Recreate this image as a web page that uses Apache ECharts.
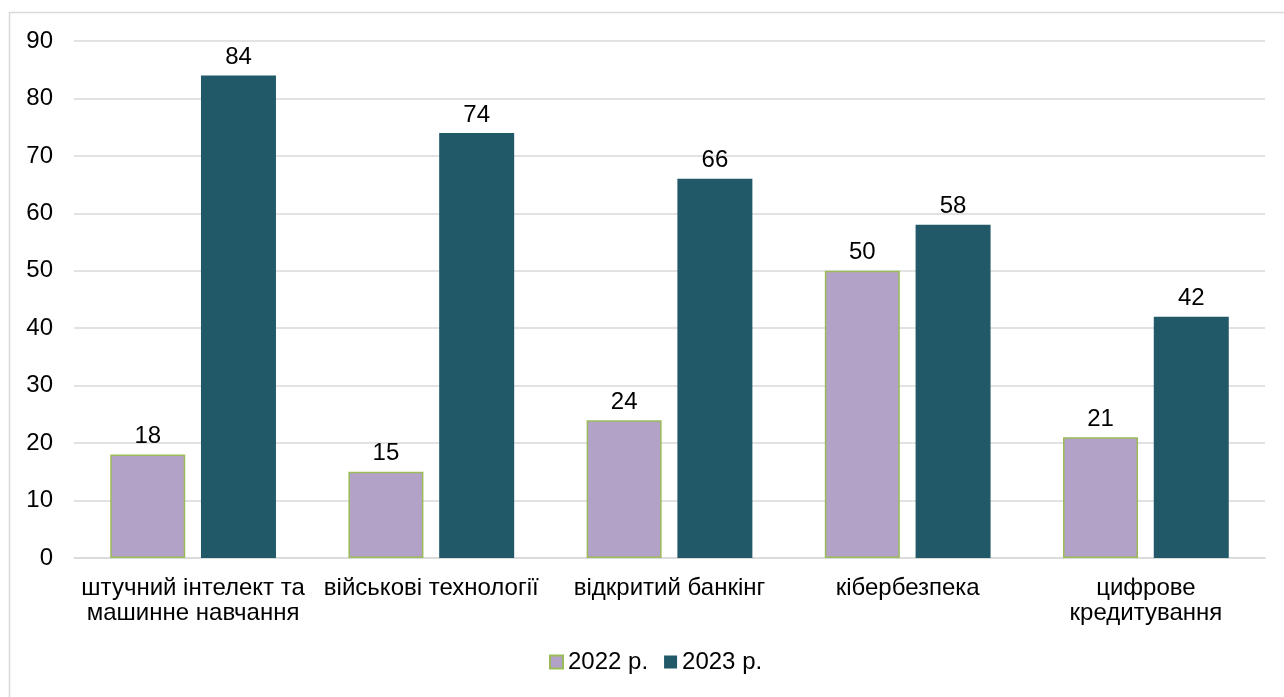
<!DOCTYPE html>
<html><head><meta charset="utf-8">
<script src="https://cdn.jsdelivr.net/npm/echarts@6/dist/echarts.min.js"></script>
<style>html,body{margin:0;padding:0;background:#fff}#c{width:1284px;height:697px}</style>
</head><body><div id="c"></div>
<script>
var categories = ['штучний інтелект та\nмашинне навчання', 'військові технології', 'відкритий банкінг', 'кібербезпека', 'цифрове\nкредитування'];
var values2022 = [18, 15, 24, 50, 21];
var values2023 = [84, 74, 66, 58, 42];
var seriesNames = ['2022 р.', '2023 р.'];

var chart = echarts.init(document.getElementById('c'));
var font = '"Liberation Sans", Arial, sans-serif';
var fs = 24;
chart.setOption({
  animation: false,
  backgroundColor: '#fff',
  graphic: [{type: 'rect', left: 7, top: 10, shape: {width: 1300, height: 720}, style: {fill: 'none', stroke: '#d9d9d9', lineWidth: 1.5}, silent: true, z: -1}],
  grid: {left: 74, right: 19, top: 41, bottom: 139, containLabel: false},
  legend: {
    top: 650, left: 549, padding: 0, itemWidth: 13, itemHeight: 13, itemGap: 16,
    textStyle: {fontFamily: font, fontSize: fs, color: '#000', padding: [0, 0, 0, 0]},
    data: seriesNames, icon: 'rect'
  },
  xAxis: {
    type: 'category', data: categories,
    axisLine: {lineStyle: {color: '#d9d9d9', width: 1.5}},
    axisTick: {show: false},
    axisLabel: {fontFamily: font, fontSize: fs, color: '#000', margin: 18, lineHeight: 25, interval: 0}
  },
  yAxis: {
    type: 'value', min: 0, max: 90, interval: 10,
    axisLine: {show: false}, axisTick: {show: false},
    splitLine: {lineStyle: {color: '#d9d9d9', width: 1.5}},
    axisLabel: {fontFamily: font, fontSize: fs, color: '#000', margin: 21}
  },
  series: [
    {name: seriesNames[0], type: 'bar', data: values2022, barWidth: 75, barGap: '21%',
     itemStyle: {color: '#b3a2c7', borderColor: '#9bbb59', borderWidth: 1.5},
     label: {show: true, position: 'top', distance: 6, fontFamily: font, fontSize: fs, color: '#000'}},
    {name: seriesNames[1], type: 'bar', data: values2023, barWidth: 75,
     itemStyle: {color: '#215968'},
     label: {show: true, position: 'top', distance: 6, fontFamily: font, fontSize: fs, color: '#000'}}
  ]
});
</script></body></html>
